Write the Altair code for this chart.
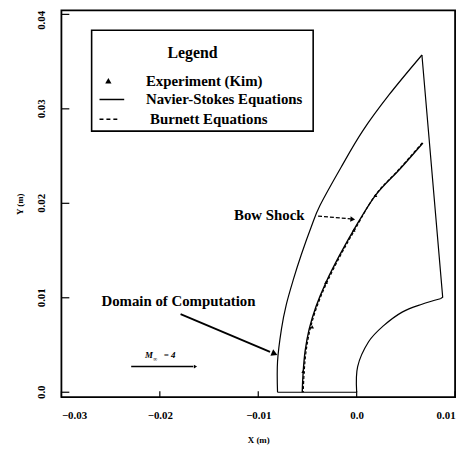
import altair as alt
import pandas as pd

# ---- data ----
x_ticks = [-0.03, -0.02, -0.01, 0.0, 0.01]
y_ticks = [0.0, 0.01, 0.02, 0.03, 0.04]
y_tick_labels = ["0.0", "0.01", "0.02", "0.03", "0.04"]

# outer curve of the computational domain (bottom to tip)
outer_x = [-0.00804, -0.00804, -0.00764, -0.00714, -0.00643, -0.00563, -0.00462, -0.00372,
           -0.00161, 0.0006, 0.00332, 0.00663]
outer_y = [0.0, 0.00325, 0.0067, 0.00932, 0.01194, 0.01455, 0.01749, 0.01979,
           0.02377, 0.02764, 0.03152, 0.0357]
# straight right edge (tip to body)
edge_x = [0.00663, 0.00874, 0.0085]
edge_y = [0.0357, 0.01005, 0.0099]
# body surface (from edge down to stagnation point)
body_x = [0.0085, 0.00663, 0.00462, 0.00271, 0.00121, 0.0001, 0.0]
body_y = [0.0099, 0.00932, 0.00848, 0.00702, 0.00534, 0.00272, 0.0]
# symmetry axis
axis_x = [0.0, -0.00804]
axis_y = [0.0, 0.0]

# Navier-Stokes shock location
ns_x = [0.00673, 0.00442, 0.00191, -0.0003, -0.00181, -0.00312, -0.00412, -0.00482,
        -0.00523, -0.00543, -0.00553]
ns_y = [0.02639, 0.02366, 0.02084, 0.01717, 0.01435, 0.01162, 0.00911, 0.0067,
        0.0044, 0.0022, 0.0]
# Burnett shock location
bu_x = [0.00665, 0.00436, 0.00188, -0.0002, -0.00171, -0.00302, -0.00402, -0.00472,
        -0.00513, -0.00533, -0.00543]
bu_y = ns_y
# Experiment (Kim)
exp_x = [0.00191, -0.0003, -0.00312, -0.00452, -0.00543]
exp_y = [0.02084, 0.01717, 0.01162, 0.00691, 0.0022]

FONT = "Liberation Serif"


def df(xv, yv):
    return pd.DataFrame({"x": xv, "y": yv, "o": list(range(len(xv)))})


xs = alt.Scale(domain=[-0.03, 0.01], nice=False, zero=False)
ys = alt.Scale(domain=[-0.00052, 0.04042], nice=False, zero=False)

LBL = "datum.value == 0 ? '0.0' : format(datum.value, '.2f')"
X = alt.X("x:Q", scale=xs, axis=alt.Axis(values=x_ticks, title="X (m)", labelExpr=LBL,
          ticks=False, domain=False, grid=False, labelPadding=13,
          labelFont=FONT, labelFontSize=11, labelFontWeight="bold",
          titleFont=FONT, titleFontSize=9, titleFontWeight="bold",
          titleY=43, titleBaseline="middle"))
Y = alt.Y("y:Q", scale=ys, axis=alt.Axis(values=y_ticks, title="Y (m)", labels=False,
          ticks=False, domain=False, grid=False,
          titleFont=FONT, titleFontSize=9, titleFontWeight="bold",
          titleX=-42, titleBaseline="middle"))

line_outer = alt.Chart(df(outer_x, outer_y)).mark_line(
    color="black", strokeWidth=1.2, interpolate="cardinal").encode(x=X, y=Y, order="o:Q")
line_edge = alt.Chart(df(edge_x, edge_y)).mark_line(color="black", strokeWidth=1.2).encode(
    x="x:Q", y="y:Q", order="o:Q")
line_body = alt.Chart(df(body_x, body_y)).mark_line(
    color="black", strokeWidth=1.2, interpolate="cardinal").encode(x="x:Q", y="y:Q", order="o:Q")
line_axis = alt.Chart(df(axis_x, axis_y)).mark_line(color="black", strokeWidth=1.2).encode(
    x="x:Q", y="y:Q", order="o:Q")
line_ns = alt.Chart(df(ns_x, ns_y)).mark_line(
    color="black", strokeWidth=1.4, interpolate="cardinal").encode(x="x:Q", y="y:Q", order="o:Q")
line_bu = alt.Chart(df(bu_x, bu_y)).mark_line(
    color="black", strokeWidth=1.2, strokeDash=[3, 2], interpolate="cardinal").encode(
    x="x:Q", y="y:Q", order="o:Q")
pts = alt.Chart(df(exp_x, exp_y)).mark_point(shape="triangle-up", filled=True, color="black",
                                              size=14, opacity=1).encode(x="x:Q", y="y:Q")

# inward ticks
xt = alt.Chart(pd.DataFrame({"t": x_ticks})).mark_rule(color="black", strokeWidth=1.2).encode(
    x="t:Q", y=alt.value(391), y2=alt.value(385))
yt = alt.Chart(pd.DataFrame({"t": y_ticks})).mark_rule(color="black", strokeWidth=1.2).encode(
    y="t:Q", x=alt.value(0), x2=alt.value(8))

# rotated y tick labels (the top one nudged down so it stays inside the page)
ylab = pd.DataFrame({"t": y_ticks, "l": y_tick_labels})
ylab_low = alt.Chart(ylab).transform_filter("datum.t < 0.035").mark_text(
    angle=270, align="center", baseline="bottom", font=FONT, fontSize=11, fontWeight="bold",
    color="black").encode(y="t:Q", x=alt.value(-15), text="l:N")
ylab_top = alt.Chart(ylab).transform_filter("datum.t > 0.035").mark_text(
    angle=270, align="center", baseline="bottom", font=FONT, fontSize=11, fontWeight="bold",
    color="black", yOffset=6).encode(y="t:Q", x=alt.value(-15), text="l:N")

# legend box
leg_box = pd.DataFrame({"x": [-0.02693], "x2": [-0.00442], "y": [0.03832], "y2": [0.02764]})
box = alt.Chart(leg_box).mark_rect(fill="white", stroke="black", strokeWidth=1.6).encode(
    x="x:Q", x2="x2:Q", y="y:Q", y2="y2:Q")

leg_title = pd.DataFrame({"x": [-0.01668], "y": [0.03592], "t": ["Legend"]})
ltitle = alt.Chart(leg_title).mark_text(font=FONT, fontSize=16, fontWeight="bold",
                                        color="black", baseline="middle").encode(
    x="x:Q", y="y:Q", text="t:N")

leg_lab = pd.DataFrame({"x": [-0.02141, -0.02141, -0.021], "y": [0.03298, 0.03099, 0.0289],
                        "t": ["Experiment (Kim)", "Navier-Stokes Equations", "Burnett Equations"]})
llab = alt.Chart(leg_lab).mark_text(font=FONT, fontSize=15, fontWeight="bold", color="black",
                                    align="left", baseline="middle").encode(
    x="x:Q", y="y:Q", text="t:N")
ltri = alt.Chart(pd.DataFrame({"x": [-0.02523], "y": [0.03298]})).mark_point(
    shape="triangle-up", filled=True, color="black", size=40, opacity=1).encode(x="x:Q", y="y:Q")
lsolid = alt.Chart(pd.DataFrame({"x": [-0.02613], "x2": [-0.02362], "y": [0.03099]})).mark_rule(
    color="black", strokeWidth=1.5).encode(x="x:Q", x2="x2:Q", y="y:Q")
ldash = alt.Chart(pd.DataFrame({"x": [-0.02613], "x2": [-0.02412], "y": [0.0289]})).mark_rule(
    color="black", strokeWidth=1.5, strokeDash=[4, 3]).encode(x="x:Q", x2="x2:Q", y="y:Q")

# annotations
ann = pd.DataFrame({"x": [-0.01246, -0.02593], "y": [0.01874, 0.00963],
                    "t": ["Bow Shock", "Domain of Computation"]})
anntxt = alt.Chart(ann).mark_text(font=FONT, fontSize=15, fontWeight="bold", color="black",
                                  align="left", baseline="middle").encode(
    x="x:Q", y="y:Q", text="t:N")

arrow_bs = alt.Chart(pd.DataFrame({"x": [-0.00392], "x2": [-0.0006], "y": [0.01864],
                                   "y2": [0.01835]})).mark_rule(
    color="black", strokeWidth=1.3, strokeDash=[4, 2]).encode(x="x:Q", x2="x2:Q", y="y:Q", y2="y2:Q")
arrow_dc = alt.Chart(pd.DataFrame({"x": [-0.01789], "x2": [-0.0088], "y": [0.00827],
                                   "y2": [0.00428]})).mark_rule(
    color="black", strokeWidth=1.8).encode(x="x:Q", x2="x2:Q", y="y:Q", y2="y2:Q")
arrow_m = alt.Chart(pd.DataFrame({"x": [-0.02291], "x2": [-0.0166], "y": [0.00272]})).mark_rule(
    color="black", strokeWidth=1.6).encode(x="x:Q", x2="x2:Q", y="y:Q")

heads = pd.DataFrame({"x": [-0.0004, -0.00834, -0.01638], "y": [0.01832, 0.00408, 0.00272],
                      "a": [5, 23, 0], "s": [30, 50, 14]})
head = alt.Chart(heads).mark_point(shape="triangle-right", filled=True, color="black",
                                   opacity=1).encode(
    x="x:Q", y="y:Q", angle=alt.Angle("a:Q", scale=None), size=alt.Size("s:Q", scale=None))

mach = pd.DataFrame({"x": [-0.02151, -0.0207, -0.0196], "y": [0.0039, 0.0035, 0.0039],
                     "t": ["M", "\u221e", "= 4"], "fs": [9, 6, 9]})
machtxt = alt.Chart(mach).mark_text(font=FONT, fontWeight="bold", fontStyle="italic",
                                    color="black", align="left", baseline="middle").encode(
    x="x:Q", y="y:Q", text="t:N", size=alt.Size("fs:Q", scale=None))

chart = alt.layer(line_outer, line_edge, line_body, line_axis, line_ns, line_bu, pts, xt, yt,
                  ylab_low, ylab_top,
                  box, ltitle, llab, ltri, lsolid, ldash, anntxt, arrow_bs, arrow_dc, arrow_m,
                  head, machtxt).properties(
    width=398, height=391,
    padding={"left": 54, "top": 0, "right": 8, "bottom": 51},
    autosize=alt.AutoSizeParams(type="none"),
    background="white",
).configure_view(stroke="black", strokeWidth=1.8)

chart.save("out.html", embed_options={"renderer": "svg", "actions": False})
